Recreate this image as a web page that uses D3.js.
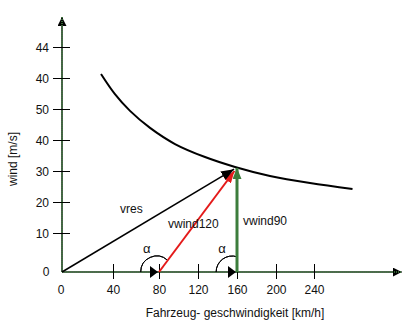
<!DOCTYPE html>
<html><head><meta charset="utf-8">
<script src="https://cdn.jsdelivr.net/npm/d3@7"></script>
<style>body{margin:0;background:#fff}svg{display:block}text{font-family:"Liberation Sans",Arial,sans-serif;font-size:12px;fill:#111}</style>
</head><body>
<script>
// ---- data ----
const xTickValues = [40, 80, 120, 160, 200, 240];
const xTickLabels = ["40", "80", "120", "160", "200", "240"];
const yTickValues = [10, 20, 30, 40, 50, 60, 70];
const yTickLabels = ["10", "20", "30", "40", "50", "40", "44"];
const originLabel = "0";
const curveX = [30.6, 41.7, 54.8, 72.2, 96.4, 127.2, 158, 193.8, 235.8, 279.5];
const curveY = [61.3, 54.8, 49.4, 43.9, 38.7, 34.5, 31.3, 28.4, 26.1, 24.2];
const vectorNames = ["vres", "vwind120", "vwind90"];
const vectorFrom = [[0, 0], [80, 0], [160, 0]];
const vectorTo = [[157, 30.6], [157.4, 30.0], [160, 31.0]];
const vehicleFoot = [80, 160];
const xTitle = "Fahrzeug- geschwindigkeit [km/h]";
const yTitle = "wind [m/s]";
const xAxisMax = 330, yAxisMax = 79.7;

const W = 416, H = 329;
const svg = d3.select("body").append("svg").attr("width", W).attr("height", H);
const x = d3.scaleLinear().domain([0, 40, 80, 120, 160, 200, 240, 280]).range([62, 113, 159, 198, 237, 276, 314, 353]);
const y = d3.scaleLinear().domain([0, 10, 70]).range([272, 233, 47]);

const defs = svg.append("defs");
function marker(id, color, len, wid) {
  defs.append("marker").attr("id", id).attr("viewBox", `0 0 ${len} ${wid}`)
    .attr("refX", len).attr("refY", wid / 2).attr("markerWidth", len).attr("markerHeight", wid)
    .attr("markerUnits", "userSpaceOnUse").attr("orient", "auto")
    .append("path").attr("d", `M0,0L${len},${wid / 2}L0,${wid}Z`).attr("fill", color);
}
marker("mBlack", "#000", 13, 10);
marker("mRed", "#e41a1a", 12, 9);
marker("mGreen", "#3c7d3c", 11, 9);
marker("mAxis", "#000", 9, 9);

// axes lines (dotted green/black)
const axisG = svg.append("g");
[[x(0), y(0), x(xAxisMax), y(0)], [x(0), y(0), x(0), y(yAxisMax)]].forEach(l => {
  axisG.append("line").attr("x1", l[0]).attr("y1", l[1]).attr("x2", l[2]).attr("y2", l[3])
    .attr("stroke", "#1e2e1e").attr("stroke-width", 1.6).attr("marker-end", "url(#mAxis)");
  axisG.append("line").attr("x1", l[0]).attr("y1", l[1]).attr("x2", l[2]).attr("y2", l[3])
    .attr("stroke", "#3f7f3f").attr("stroke-width", 1.6).attr("stroke-dasharray", "1,1");
});

// x axis ticks
const xa = svg.append("g").attr("transform", `translate(0,${y(0)})`)
  .call(d3.axisBottom(x).tickValues(xTickValues).tickFormat((d, i) => xTickLabels[i]).tickSizeOuter(0));
xa.select(".domain").remove();
xa.selectAll(".tick line").attr("y1", -8).attr("y2", 7).attr("stroke", "#000");
xa.selectAll(".tick text").attr("y", 13).attr("dy", "0.71em");
// y axis ticks
const ya = svg.append("g").attr("transform", `translate(${x(0)},0)`)
  .call(d3.axisLeft(y).tickValues(yTickValues).tickFormat((d, i) => yTickLabels[i]).tickSizeOuter(0));
ya.select(".domain").remove();
ya.selectAll(".tick line").attr("x1", -9).attr("x2", 8).attr("stroke", "#000");
ya.selectAll(".tick text").attr("x", -13).attr("dy", "0.35em");
ya.attr("font-family", null).attr("font-size", null);
xa.attr("font-family", null).attr("font-size", null);
// origin labels
svg.append("text").attr("x", x(0) - 16).attr("y", y(0)).attr("dy", "0.35em").attr("text-anchor", "middle").text(originLabel);
svg.append("text").attr("x", x(0) - 1).attr("y", y(0) + 13).attr("dy", "0.71em").attr("text-anchor", "middle").text(originLabel);

// curve
const pts = curveX.map((v, i) => [x(v), y(curveY[i])]);
svg.append("path").attr("d", d3.line().curve(d3.curveCatmullRom)(pts))
  .attr("fill", "none").attr("stroke", "#000").attr("stroke-width", 2);

// vehicle speed triangles and alpha arcs
vehicleFoot.forEach((f, i) => {
  const fx = x(f), fy = y(0);
  svg.append("path").attr("d", `M${fx - 9},${fy - 6}L${fx - 1},${fy}L${fx - 9},${fy + 6}Z`).attr("fill", "#000");
});
const arcCenters = [78, 155];
const arcEnd = [0.733, 0.314];
arcCenters.forEach((c, i) => {
  svg.append("path").attr("transform", `translate(${x(c)},${y(0)})`)
    .attr("d", d3.arc()({innerRadius: 16, outerRadius: 16, startAngle: -Math.PI / 2, endAngle: arcEnd[i]}))
    .attr("fill", "none").attr("stroke", "#000").attr("stroke-width", 1);
  svg.append("text").attr("x", x(c) - 10).attr("y", y(0) - 19).attr("text-anchor", "middle")
    .style("font-size", "13px").text("α");
});

// vectors
const colors = ["#000", "#e41a1a", "#3c7d3c"];
const widths = [1.5, 2, 3];
const markers = ["mBlack", "mRed", "mGreen"];
[1, 0, 2].forEach(i => {
  svg.append("line").attr("x1", x(vectorFrom[i][0])).attr("y1", y(vectorFrom[i][1]))
    .attr("x2", x(vectorTo[i][0])).attr("y2", y(vectorTo[i][1]))
    .attr("stroke", colors[i]).attr("stroke-width", widths[i]).attr("marker-end", `url(#${markers[i]})`);
});
// vector labels
svg.append("text").attr("x", x(vectorFrom[0][0]) + 58).attr("y", y(0) - 59).text(vectorNames[0]);
svg.append("text").attr("x", x(vectorFrom[1][0]) + 9).attr("y", y(0) - 44).text(vectorNames[1]);
svg.append("text").attr("x", x(vectorFrom[2][0]) + 6).attr("y", y(0) - 47).text(vectorNames[2]);

// axis titles
svg.append("text").attr("x", 235).attr("y", 317).attr("text-anchor", "middle").text(xTitle);
svg.append("text").attr("transform", "translate(17,159) rotate(-90)").attr("text-anchor", "middle").text(yTitle);
</script>
</body></html>
